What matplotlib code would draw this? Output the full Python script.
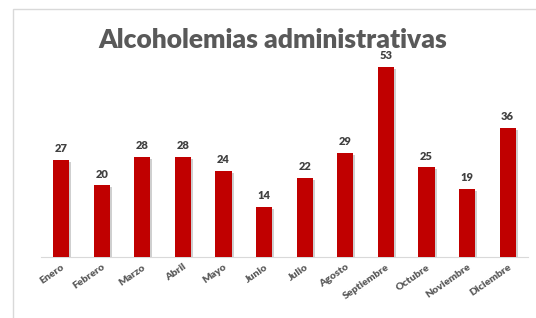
import matplotlib.pyplot as plt
import matplotlib.patheffects as pe
from matplotlib.patches import Rectangle

meses = ["Enero", "Febrero", "Marzo", "Abril", "Mayo", "Junio", "Julio",
         "Agosto", "Septiembre", "Octubre", "Noviembre", "Diciembre"]
valores = [27, 20, 28, 28, 24, 14, 22, 29, 53, 25, 19, 36]

plt.rcParams["font.family"] = ["Lato", "DejaVu Sans"]

fig = plt.figure(figsize=(5.36, 3.18), dpi=100)
fig.patches.append(Rectangle((13 / 536, -0.1), 1.0, 1 - 9 / 318 + 0.1,
                             transform=fig.transFigure, fill=False,
                             edgecolor="#d9d9d9", linewidth=1))

ax = fig.add_axes([0.076, 0.192, 0.909, 0.676])
x = range(len(meses))
bars = ax.bar(x, valores, width=0.4, color="#c00000", zorder=3)
for b in bars:
    b.set_path_effects([pe.SimplePatchShadow(offset=(1.5, -1.5), shadow_rgbFace="#b0b0b0", alpha=0.6),
                        pe.Normal()])

for xi, v in zip(x, valores):
    ax.text(xi, v + 1.6, str(v), ha="center", va="bottom", fontsize=8,
            fontweight="heavy", color="#404040")

ax.set_xlim(-0.5, 11.5)
ax.set_ylim(0, 60)
ax.set_yticks([])
ax.set_xticks(list(x))
ax.set_xticklabels(meses, rotation=35, ha="right", rotation_mode="anchor",
                   fontsize=7.5, fontweight="heavy", color="#595959")
ax.tick_params(axis="x", length=0, pad=4)
for s in ["top", "right", "left"]:
    ax.spines[s].set_visible(False)
ax.spines["bottom"].set_color("#d9d9d9")

fig.text(0.509, 0.875, "Alcoholemias administrativas", ha="center", va="center",
         fontsize=19, fontweight="heavy", color="#595959")

fig.savefig("out.png", dpi=100)
